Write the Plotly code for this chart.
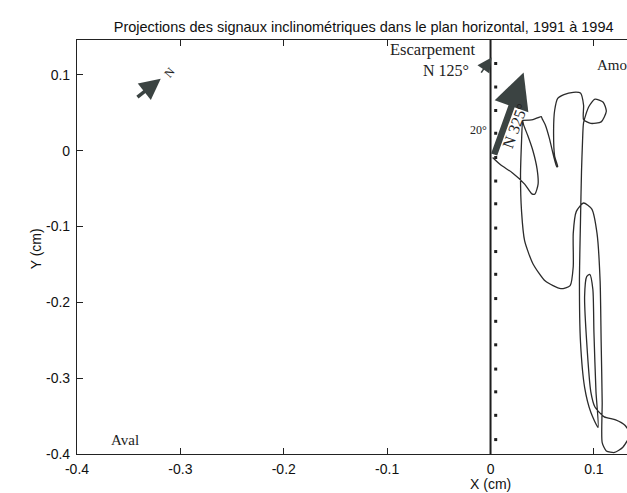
import plotly.graph_objects as go

# Trajectory of the inclinometer signal projected in the horizontal plane (cm)
traj_x = [0.002, 0.010, 0.021, 0.033, 0.040, 0.043, 0.046, 0.045, 0.041, 0.036, 0.032, 0.031,
          0.030, 0.029, 0.030, 0.033, 0.041, 0.053, 0.068, 0.077, 0.080, 0.080, 0.083, 0.090,
          0.098, 0.103, 0.106, 0.107, 0.108, 0.108, 0.112, 0.120, 0.128, 0.135, 0.130, 0.121,
          0.110, 0.101, 0.097, 0.093, 0.091, 0.093, 0.096, 0.099, 0.100, 0.102, 0.104, 0.097,
          0.091, 0.087, 0.086, 0.087, 0.088, 0.089, 0.090, 0.095, 0.101, 0.109, 0.112, 0.107,
          0.097, 0.090, 0.090, 0.087, 0.080, 0.071, 0.065, 0.062, 0.061, 0.062, 0.065, 0.064,
          0.061, 0.057, 0.053, 0.050, 0.049, 0.041, 0.031]
traj_y = [-0.009, -0.019, -0.029, -0.044, -0.057, -0.057, -0.044, -0.024, 0.000, 0.020, 0.034, 0.040,
          0.013, -0.033, -0.080, -0.119, -0.149, -0.172, -0.182, -0.178, -0.153, -0.109, -0.080, -0.069,
          -0.077, -0.109, -0.172, -0.252, -0.332, -0.385, -0.396, -0.398, -0.391, -0.374, -0.362, -0.355,
          -0.351, -0.338, -0.318, -0.252, -0.192, -0.166, -0.163, -0.183, -0.239, -0.318, -0.365, -0.345,
          -0.312, -0.252, -0.172, -0.093, -0.027, 0.013, 0.037, 0.058, 0.068, 0.064, 0.052, 0.038,
          0.036, 0.041, 0.060, 0.076, 0.077, 0.074, 0.069, 0.053, 0.027, -0.007, -0.021, -0.021,
          -0.007, 0.016, 0.034, 0.042, 0.045, 0.041, 0.040]

# Escarpment hatch marks along x = 0
escarp_tick_x = [0.005] * 17
escarp_tick_y = [0.115, 0.084, 0.053, 0.023, -0.009, -0.040, -0.070, -0.102, -0.133, -0.163,
                 -0.195, -0.225, -0.256, -0.288, -0.318, -0.349, -0.381]

x_ticks = [-0.4, -0.3, -0.2, -0.1, 0, 0.1]
x_tick_text = ["-0.4", "-0.3", "-0.2", "-0.1", "0", "0.1"]
y_ticks = [0.1, 0, -0.1, -0.2, -0.3, -0.4]
y_tick_text = ["0.1", "0", "-0.1", "-0.2", "-0.3", "-0.4"]

# Direction arrows (tail -> head), in cm
main_arrow = dict(tail=(0.003, -0.007), head=(0.032, 0.103))
north_arrow = dict(tail=(-0.343, 0.069), head=(-0.319, 0.095))
escarp_arrow = dict(tail=(-0.010, 0.101), head=(0.001, 0.123))

INK = "#2b2b2b"
ARROW = "#3b4342"
SERIF = "Liberation Serif, Times New Roman, serif"
SANS = "Liberation Sans, Arial, sans-serif"

fig = go.Figure()

fig.add_vline(x=0, line=dict(color="#1e1e1e", width=2))

fig.add_trace(go.Scatter(x=traj_x, y=traj_y, mode="lines",
                         line=dict(color=INK, width=1.3, shape="spline", smoothing=0.6),
                         hoverinfo="skip", showlegend=False))

fig.add_trace(go.Scatter(x=escarp_tick_x, y=escarp_tick_y, mode="markers",
                         marker=dict(color="#1e1e1e", size=3, symbol="square"),
                         hoverinfo="skip", showlegend=False))

for arr, w, s in [(main_arrow, 6.5, 1.1), (north_arrow, 3.5, 1.2), (escarp_arrow, 1.6, 1.8)]:
    fig.add_annotation(x=arr["head"][0], y=arr["head"][1], ax=arr["tail"][0], ay=arr["tail"][1],
                       xref="x", yref="y", axref="x", ayref="y", text="", showarrow=True,
                       arrowhead=2, arrowwidth=w, arrowsize=s, arrowcolor=ARROW)

texts = [
    dict(x=-0.056, y=0.133, text="Escarpement", size=16.5, angle=0, font=SERIF),
    dict(x=-0.043, y=0.106, text="N 125°", size=16, angle=0, font=SERIF),
    dict(x=0.024, y=0.033, text="N 325°", size=16, angle=-70, font=SERIF),
    dict(x=-0.012, y=0.027, text="20°", size=12, angle=0, font=SERIF),
    dict(x=-0.354, y=-0.381, text="Aval", size=15, angle=0, font=SERIF),
    dict(x=-0.311, y=0.103, text="N", size=12, angle=-50, font=SERIF),
]
for t in texts:
    fig.add_annotation(x=t["x"], y=t["y"], xref="x", yref="y", text=t["text"], showarrow=False,
                       textangle=t["angle"], font=dict(family=t["font"], size=t["size"], color="#222"))
fig.add_annotation(x=0.101, y=0.113, xref="x", yref="y", text="Amont", showarrow=False,
                   xanchor="left", font=dict(family=SERIF, size=15, color="#222"))
fig.add_annotation(x=0, y=0, xref="x", yref="paper", yanchor="top", yshift=-20, text="X (cm)",
                   showarrow=False, font=dict(family=SANS, size=14, color="#111"))
fig.add_annotation(x=0, xref="paper", xanchor="center", xshift=-41, y=-0.13, yref="y",
                   text="Y (cm)", textangle=-90, showarrow=False,
                   font=dict(family=SANS, size=14, color="#111"))

fig.update_layout(
    width=627, height=493,
    margin=dict(l=77, r=0, t=40, b=39, autoexpand=False),
    paper_bgcolor="white", plot_bgcolor="white",
    title=dict(text="Projections des signaux inclinométriques dans le plan horizontal, 1991 à 1994",
               x=0.58, xanchor="center", y=0.945, yanchor="middle",
               font=dict(family=SANS, size=14.5, color="#111")),
    font=dict(family=SANS, size=14, color="#111"),
)
fig.update_xaxes(range=[-0.4, 0.132], tickvals=x_ticks, ticktext=x_tick_text, automargin=False,
                 showgrid=False, zeroline=False, showline=True, linecolor="#222", linewidth=1.2,
                 mirror="ticks", ticks="inside", ticklen=6, tickcolor="#222", ticklabelstandoff=2)
fig.update_yaxes(range=[-0.4, 0.146], tickvals=y_ticks, ticktext=y_tick_text, automargin=False,
                 showgrid=False, zeroline=False, showline=True, linecolor="#222", linewidth=1.2,
                 mirror=False, ticks="inside", ticklen=6, tickcolor="#222", ticklabelstandoff=3)

fig.write_html("out.html", config={"displayModeBar": False},
               post_script="document.body.style.margin='0';document.body.style.overflow='hidden';")
